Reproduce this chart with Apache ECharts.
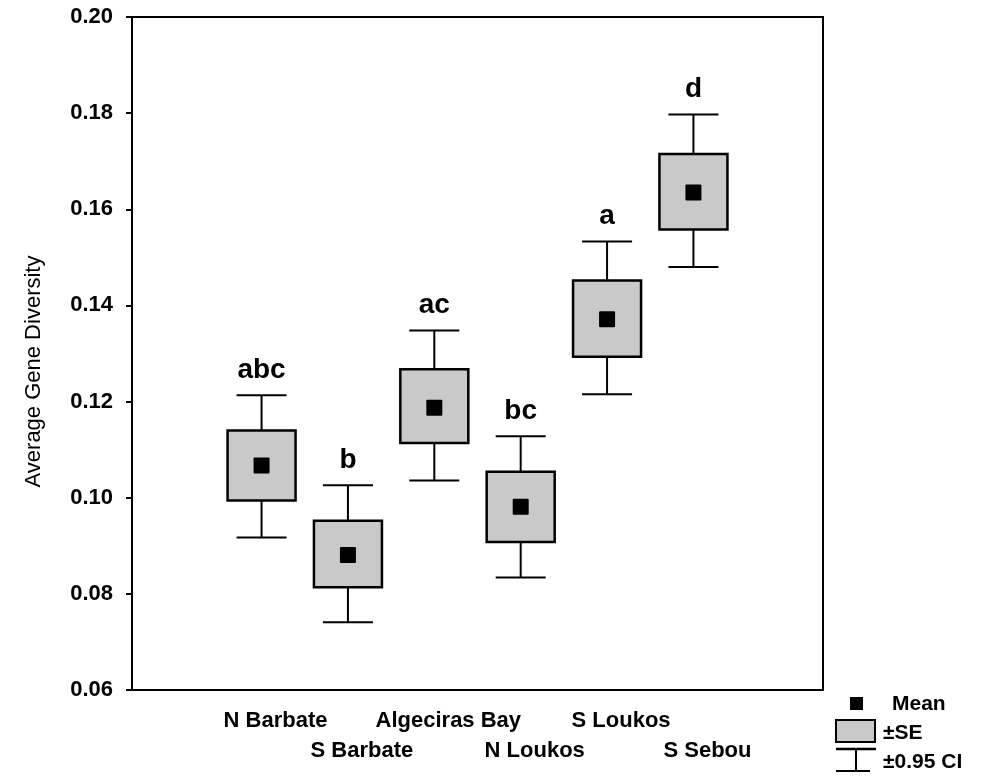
<!DOCTYPE html>
<html>
<head>
<meta charset="utf-8">
<script src="https://cdn.jsdelivr.net/npm/echarts@6/dist/echarts.min.js"></script>
<style>
  html, body { margin: 0; padding: 0; background: #fff; }
  #chart { width: 987px; height: 776px; }
</style>
</head>
<body>
<div id="chart"></div>
<script>
// sites, padded with an empty slot on each side
const categories = ["", "N Barbate", "S Barbate", "Algeciras Bay", "N Loukos", "S Loukos", "S Sebou", ""];
const means  = [0.1067, 0.0881, 0.1187, 0.0981, 0.1371, 0.1635];
const seLow  = [0.0994, 0.0814, 0.1114, 0.0908, 0.1293, 0.1558];
const seHigh = [0.1140, 0.0952, 0.1267, 0.1054, 0.1452, 0.1715];
const ciLow  = [0.0917, 0.0741, 0.1036, 0.0834, 0.1215, 0.1480];
const ciHigh = [0.1213, 0.1026, 0.1348, 0.1128, 0.1533, 0.1797];
const letters = ["abc", "b", "ac", "bc", "a", "d"];
const yTicks = [0.06, 0.08, 0.10, 0.12, 0.14, 0.16, 0.18, 0.20];

const FONT = "Arial, 'Liberation Sans', sans-serif";

const chart = echarts.init(document.getElementById("chart"), null, { renderer: "canvas" });

const data = means.map((m, i) => [i + 1, ciLow[i], seLow[i], m, seHigh[i], ciHigh[i], letters[i]]);

function renderItem(params, api) {
	const x = api.value(0);
	const pLo = api.coord([x, api.value(1)]);
	const pSeLo = api.coord([x, api.value(2)]);
	const pMean = api.coord([x, api.value(3)]);
	const pSeHi = api.coord([x, api.value(4)]);
	const pHi = api.coord([x, api.value(5)]);
	const cx = pMean[0];
	const boxW = 68, capW = 50, meanS = 16;
	const line = { stroke: "#000", lineWidth: 2 };
	return {
		type: "group",
		children: [
			{ type: "line", shape: { x1: cx, y1: pHi[1], x2: cx, y2: pSeHi[1] }, style: line },
			{ type: "line", shape: { x1: cx, y1: pSeLo[1], x2: cx, y2: pLo[1] }, style: line },
			{ type: "line", shape: { x1: cx - capW / 2, y1: pHi[1], x2: cx + capW / 2, y2: pHi[1] }, style: line },
			{ type: "line", shape: { x1: cx - capW / 2, y1: pLo[1], x2: cx + capW / 2, y2: pLo[1] }, style: line },
			{
				type: "rect",
				shape: { x: cx - boxW / 2, y: pSeHi[1], width: boxW, height: pSeLo[1] - pSeHi[1] },
				style: { fill: "#c9c9c9", stroke: "#000", lineWidth: 2.5 },
			},
			{
				type: "rect",
				shape: { x: cx - meanS / 2, y: pMean[1] - meanS / 2, width: meanS, height: meanS, r: 1 },
				style: { fill: "#000" },
			},
			{
				type: "text",
				style: {
					x: cx, y: pHi[1] - 11,
					text: api.value(6),
					font: "bold 28px " + FONT,
					fill: "#000",
					align: "center",
					verticalAlign: "bottom",
				},
			},
		],
	};
}

const option = {
	animation: false,
	backgroundColor: "#fff",
	grid: {
		left: 132, right: 164, top: 17, bottom: 86,
		show: true, borderColor: "#000", borderWidth: 2,
	},
	xAxis: {
		type: "category",
		data: categories,
		boundaryGap: true,
		axisLine: { lineStyle: { color: "#000", width: 2 } },
		axisTick: {
			alignWithLabel: true,
			length: 7,
			interval: (i) => i > 0 && i < categories.length - 1,
			lineStyle: { color: "#000", width: 2 },
		},
		axisLabel: {
			interval: 0,
			margin: 16,
			color: "#000",
			fontFamily: FONT,
			fontWeight: "bold",
			fontSize: 22,
			lineHeight: 30,
			padding: [0, 0, 0, 28],
			formatter: (v, i) => (i % 2 === 0 ? "\n" + v : v),
		},
		splitLine: { show: false },
	},
	yAxis: {
		type: "value",
		min: yTicks[0],
		max: yTicks[yTicks.length - 1],
		interval: 0.02,
		name: "Average Gene Diversity",
		nameLocation: "middle",
		nameGap: 87,
		nameTextStyle: { color: "#000", fontFamily: FONT, fontSize: 22, padding: [0, 36, 0, 0] },
		axisLine: { show: true, lineStyle: { color: "#000", width: 2 } },
		axisTick: { show: true, length: 6, lineStyle: { color: "#000", width: 2 } },
		axisLabel: {
			margin: 19,
			color: "#000",
			fontFamily: FONT,
			fontWeight: "bold",
			fontSize: 22,
			formatter: (v) => v.toFixed(2),
		},
		splitLine: { show: false },
	},
	series: [
		{
			type: "custom",
			renderItem: renderItem,
			data: data,
			encode: { x: 0, y: [1, 5] },
			clip: false,
		},
	],
	graphic: [
		{ type: "rect", shape: { x: 850, y: 697, width: 13, height: 13 }, style: { fill: "#000" } },
		{ type: "text", style: { x: 892, y: 704, text: "Mean", font: "bold 21px " + FONT, fill: "#000", verticalAlign: "middle" } },
		{ type: "rect", shape: { x: 836, y: 720, width: 39, height: 22 }, style: { fill: "#c9c9c9", stroke: "#000", lineWidth: 2 } },
		{ type: "text", style: { x: 883, y: 733, text: "±SE", font: "bold 21px " + FONT, fill: "#000", verticalAlign: "middle" } },
		{ type: "line", shape: { x1: 836, y1: 749, x2: 876, y2: 749 }, style: { stroke: "#000", lineWidth: 2.5 } },
		{ type: "line", shape: { x1: 856, y1: 749, x2: 856, y2: 771 }, style: { stroke: "#000", lineWidth: 2 } },
		{ type: "line", shape: { x1: 836, y1: 771, x2: 870, y2: 771 }, style: { stroke: "#000", lineWidth: 2 } },
		{ type: "text", style: { x: 883, y: 762, text: "±0.95 CI", font: "bold 21px " + FONT, fill: "#000", verticalAlign: "middle" } },
	],
};

chart.setOption(option);
</script>
</body>
</html>
